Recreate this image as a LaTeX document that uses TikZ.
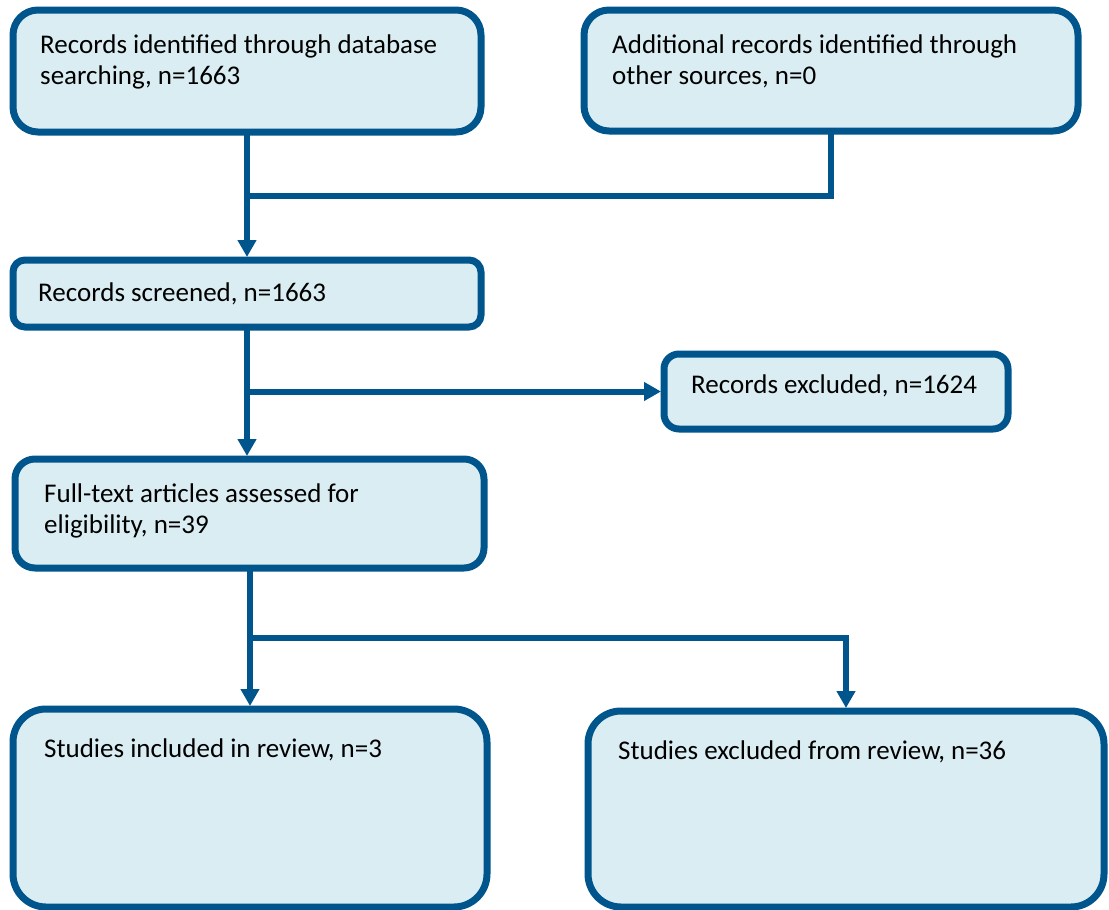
\documentclass[tikz,border=0pt]{standalone}
\usepackage{fontspec}
\setmainfont{Carlito}
\usetikzlibrary{arrows.meta}
\definecolor{bord}{HTML}{00558C}
\definecolor{boxfill}{HTML}{DAEDF3}
\begin{document}
\begin{tikzpicture}[x=1pt,y=-1pt,
  box/.style={draw=bord, fill=boxfill, line width=7pt, anchor=north west, inner sep=0pt, outer sep=0pt},
  lbl/.style={anchor=base west, inner sep=0pt, align=left, font=\fontsize{27}{31}\selectfont},
  conn/.style={draw=bord, line width=6pt},
  arr/.style={conn, -{Triangle[width=18pt,length=17pt]}}]
\useasboundingbox (0,0) rectangle (1109,910);
% boxes
\node[box, rounded corners=25pt, minimum width=468pt, minimum height=122pt] (a) at (13,10) {};
\node[box, rounded corners=25pt, minimum width=494pt, minimum height=121pt] (b) at (584,10) {};
\node[box, rounded corners=12pt, minimum width=468pt, minimum height=67pt] (c) at (13,260) {};
\node[box, rounded corners=15pt, minimum width=344pt, minimum height=75pt] (d) at (664,354) {};
\node[box, rounded corners=20pt, minimum width=469pt, minimum height=109pt] (e) at (15,459) {};
\node[box, rounded corners=33pt, minimum width=474pt, minimum height=198pt] (f) at (13,709) {};
\node[box, rounded corners=33pt, minimum width=516pt, minimum height=196pt] (g) at (588,711) {};
% labels (base = baseline of last line)
\node[lbl] (ta) at (40,84) {Records identified through database\\searching, n=1663};
\node[lbl] (tb) at (612,84) {Additional records identified through\\other sources, n=0};
\node[lbl] (tc) at (38,301) {Records screened, n=1663};
\node[lbl] (td) at (691,393) {Records excluded, n=1624};
\node[lbl] (te) at (44,533) {Full-text articles assessed for\\eligibility, n=39};
\node[lbl] (tf) at (44,757) {Studies included in review, n=3};
\node[lbl] (tg) at (618,759) {Studies excluded from review, n=36};
% junctions
\coordinate (j1) at (247,196);
\coordinate (j2) at (247,391.5);
\coordinate (j3) at (250,638);
% connectors
\draw[arr, shorten >=3pt] (a.south) -- (c.north);
\draw[conn] (b.south) |- (j1);
\draw[arr, shorten >=3pt] (c.south) -- (c.south |- e.north);
\draw[arr, shorten >=3pt] (j2) -- (j2 -| d.west);
\draw[arr, shorten >=3pt] (e.south -| j3) -- (j3 |- f.north);
\draw[arr, shorten >=3pt] (j3) -| (g.north);
\end{tikzpicture}
\end{document}
